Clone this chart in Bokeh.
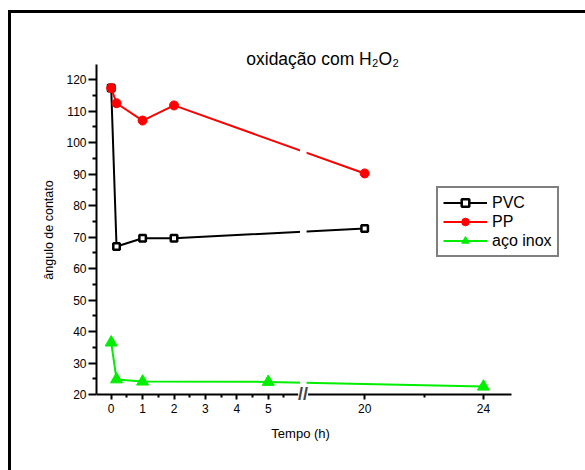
from bokeh.plotting import figure
from bokeh.models import Range1d, FixedTicker, Label, Legend, LegendItem, ColumnDataSource
from bokeh.embed import file_html
from bokeh.resources import INLINE

# ---- data ----
time_pvc = [0, 0.17, 1, 2, 20]
pvc = [117.3, 67.0, 69.6, 69.6, 72.7]
time_pp = [0, 0.17, 1, 2, 20]
pp = [117.3, 112.5, 107.0, 111.8, 90.2]
time_inox = [0, 0.17, 1, 5, 24]
inox = [36.5, 24.8, 24.1, 24.0, 22.5]

x_major = [0, 1, 2, 3, 4, 5, 20, 24]
x_minor = [0.5, 1.5, 2.5, 3.5, 4.5, 5.5, 22]
y_major = [20, 30, 40, 50, 60, 70, 80, 90, 100, 110, 120]
y_minor = [25, 35, 45, 55, 65, 75, 85, 95, 105, 115]

# ---- broken axis mapping (0..6 linear, then 20..24 slightly compressed) ----
SEG2_START = 8.07
SEG2_SCALE = 0.945
BREAK_POS = 6.11
X_AXIS_LO, X_AXIS_HI = -0.468, 12.73
Y_AXIS_LO, Y_AXIS_HI = 20, 124.8


def xmap(t):
    return t if t < 10 else SEG2_START + (t - 20) * SEG2_SCALE


FONT = "Liberation Sans"

p = figure(frame_width=489, frame_height=429, output_backend="svg", toolbar_location=None,
           x_range=Range1d(-0.468, 15.10), y_range=Range1d(4.12, 140.36),
           min_border_left=85, min_border_right=0, min_border_top=2, min_border_bottom=26)
p.styles = {"border-top": "3px solid black", "border-left": "3px solid black",
            "margin-left": "8px", "margin-top": "10px"}
p.grid.visible = False
p.outline_line_color = None
p.background_fill_color = "white"
p.border_fill_color = "white"

# axes
p.xaxis.fixed_location = 20
p.xaxis.bounds = (X_AXIS_LO, X_AXIS_HI)
p.yaxis.bounds = (Y_AXIS_LO, Y_AXIS_HI)
p.xaxis.ticker = FixedTicker(ticks=[xmap(t) for t in x_major], minor_ticks=[xmap(t) for t in x_minor])
p.xaxis.major_label_overrides = {xmap(t): str(t) for t in x_major}
p.yaxis.ticker = FixedTicker(ticks=y_major, minor_ticks=y_minor)
for ax in (p.xaxis[0], p.yaxis[0]):
    ax.axis_line_width = 2
    ax.axis_line_color = "black"
    ax.major_tick_line_width = 2
    ax.minor_tick_line_width = 2
    ax.major_tick_in = 0
    ax.minor_tick_in = 0
    ax.major_label_text_font = FONT
    ax.major_label_text_font_size = "12px"
    ax.major_label_text_color = "black"
    ax.axis_label_text_font = FONT
    ax.axis_label_text_font_style = "normal"
    ax.axis_label_text_color = "black"
p.xaxis.major_tick_out = 5
p.xaxis.minor_tick_out = 3
p.yaxis.major_tick_out = 8
p.yaxis.minor_tick_out = 4
p.yaxis.axis_label = "ângulo de contato"
p.yaxis.axis_label_text_font_size = "12.5px"
p.yaxis.axis_label_standoff = 7
p.yaxis.major_label_standoff = 2

# x axis title (drawn inside the extended frame, below the fixed-location axis)
p.add_layout(Label(x=6.03, y=7.62, text="Tempo (h)", text_font=FONT, text_font_size="13px",
                   text_align="center", text_baseline="middle", text_color="black"))

# series
src_pvc = ColumnDataSource(dict(x=[xmap(t) for t in time_pvc], y=pvc))
src_pp = ColumnDataSource(dict(x=[xmap(t) for t in time_pp], y=pp))
src_inox = ColumnDataSource(dict(x=[xmap(t) for t in time_inox], y=inox))

l1 = p.line("x", "y", source=src_pvc, color="black", line_width=2)
m1 = p.scatter("x", "y", source=src_pvc, marker="square", size=6.5, fill_color="white",
               line_color="black", line_width=2.5)
l3 = p.line("x", "y", source=src_inox, color="#00ee00", line_width=2)
m3 = p.scatter("x", "y", source=src_inox, marker="triangle", size=12, fill_color="#00ee00",
               line_color="#00ee00")
l2 = p.line("x", "y", source=src_pp, color="#ff0000", line_width=2)
m2 = p.scatter("x", "y", source=src_pp, marker="circle", size=9, fill_color="#ff0000",
               line_color="#ff0000")

# gap in lines at the axis break
p.quad(left=[BREAK_POS - 0.1], right=[BREAK_POS + 0.11], bottom=[21], top=[124],
       fill_color="white", line_color=None)

# break mark on axis
p.add_layout(Label(x=BREAK_POS, y=20, text="//", text_font=FONT, text_font_size="18px",
                   text_font_style="bold", text_align="center", text_baseline="middle",
                   background_fill_color="white"))

# title
p.add_layout(Label(x=6.73, y=126.4, text="oxidação com H₂O₂", text_font=FONT,
                   text_font_size="17.5px", text_align="center", text_baseline="alphabetic",
                   text_color="black"))

legend = Legend(items=[LegendItem(label="PVC", renderers=[l1, m1]),
                       LegendItem(label="PP", renderers=[l2, m2]),
                       LegendItem(label="aço inox", renderers=[l3, m3])],
                location=(340, 187))
legend.label_text_font = FONT
legend.label_text_font_size = "16px"
legend.label_text_color = "black"
legend.glyph_width = 44
legend.glyph_height = 19
legend.label_height = 19
legend.spacing = 0
legend.padding = 5
legend.margin = 0
legend.label_standoff = 5
legend.border_line_color = "black"
legend.border_line_width = 2
legend.background_fill_alpha = 1
p.add_layout(legend, "center")

open("out.html", "w").write(file_html(p, INLINE))
